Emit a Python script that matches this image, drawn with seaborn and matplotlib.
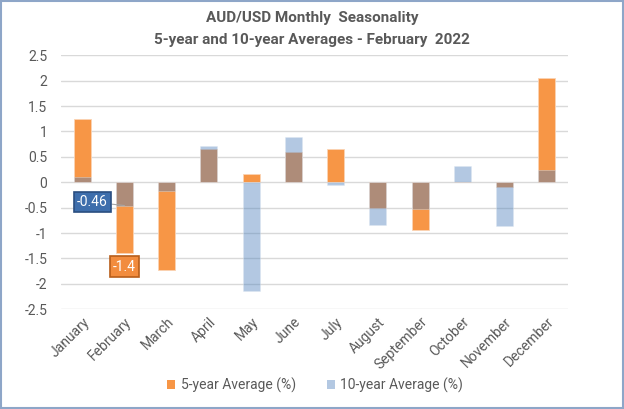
import matplotlib
matplotlib.use("Agg")
import matplotlib.pyplot as plt
import seaborn as sns
import pandas as pd
from matplotlib.patches import Rectangle, Patch

months = ["January", "February", "March", "April", "May", "June", "July",
          "August", "September", "October", "November", "December"]
five_year = [1.24, -1.39, -1.73, 0.66, 0.16, 0.60, 0.66, -0.51, -0.95, 0.0, -0.09, 2.05]
ten_year = [0.10, -0.46, -0.18, 0.71, -2.14, 0.89, -0.05, -0.85, -0.53, 0.31, -0.86, 0.24]
yticks = [2.5, 2, 1.5, 1, 0.5, 0, -0.5, -1, -1.5, -2, -2.5]
ytick_labels = ["2.5", "2", "1.5", "1", "0.5", "0", "-0.5", "-1", "-1.5", "-2", "-2.5"]

df = pd.DataFrame({"month": months, "five": five_year, "ten": ten_year})

sns.set_theme(style="white")
plt.rcParams["font.family"] = ["Roboto", "DejaVu Sans"]

ORANGE = "#F79646"
BLUE = "#4F81BD"
TEXT = "#595959"

fig = plt.figure(figsize=(6.24, 4.09), dpi=100)
ax = fig.add_axes([0.098, 0.244, 0.812, 0.621])

sns.barplot(data=df, x="month", y="five", color=ORANGE, saturation=1,
            width=0.40, ax=ax, edgecolor="#FAD3B3", linewidth=0.6, zorder=2)
sns.barplot(data=df, x="month", y="ten", color=BLUE, saturation=1, alpha=0.43,
            width=0.40, ax=ax, edgecolor="#DCE6F2", linewidth=0.6, zorder=3)

ax.set_ylim(-2.5, 2.5)
ax.set_xlim(-0.5, len(months) - 0.5)
ax.set_yticks(yticks)
ax.set_yticklabels(ytick_labels, fontsize=10, color=TEXT)
ax.set_xticks(range(len(months)))
ax.set_xticklabels(months, rotation=45, ha="right", rotation_mode="anchor",
                   fontsize=10, color=TEXT)
ax.tick_params(axis="both", length=0, pad=4)
ax.tick_params(axis="y", pad=10)
ax.set_xlabel("")
ax.set_ylabel("")
for s in ax.spines.values():
    s.set_visible(False)
ax.grid(axis="y", color="#D9D9D9", linewidth=1.0, zorder=0)
ax.set_axisbelow(True)

# annotations
ax.annotate("-0.46", xy=(1, -0.46), xytext=(0.24, -0.39),
            textcoords="data", ha="center", va="center", color="white", fontsize=10,
            bbox=dict(boxstyle="square,pad=0.25", fc="#3E6EAC", ec="#2A4E80", lw=1.2),
            arrowprops=dict(arrowstyle="-", color="#A6A6A6", lw=0.8,
                            shrinkA=0, shrinkB=0), zorder=5)
ax.text(1.0, -1.66, "-1.4", ha="center", va="center", color="white", fontsize=10,
        bbox=dict(boxstyle="square,pad=0.25", fc="#F28C3E", ec="#B85E1A", lw=1.2),
        zorder=5)

fig.text(0.5, 0.955, "AUD/USD Monthly  Seasonality", ha="center", va="center",
         fontsize=11, fontweight="bold", color=TEXT)
fig.text(0.5, 0.902, "5-year and 10-year Averages - February  2022", ha="center",
         va="center", fontsize=11, fontweight="bold", color=TEXT)

handles = [Patch(facecolor=ORANGE, edgecolor="none"),
           Patch(facecolor="#B3C8E2", edgecolor="none")]
fig.legend(handles, ["5-year Average (%)", "10-year Average (%)"],
           loc="center", bbox_to_anchor=(0.505, 0.058), ncol=2, frameon=False,
           fontsize=10, handlelength=0.6, handleheight=0.6, handletextpad=0.4,
           columnspacing=2.2, labelcolor=TEXT)

fig.patches.append(Rectangle((0.002, 0.003), 0.996, 0.994, transform=fig.transFigure,
                             fill=False, edgecolor="#8EA6C8", linewidth=1.5))

fig.savefig("out.png", dpi=100, facecolor="white")
